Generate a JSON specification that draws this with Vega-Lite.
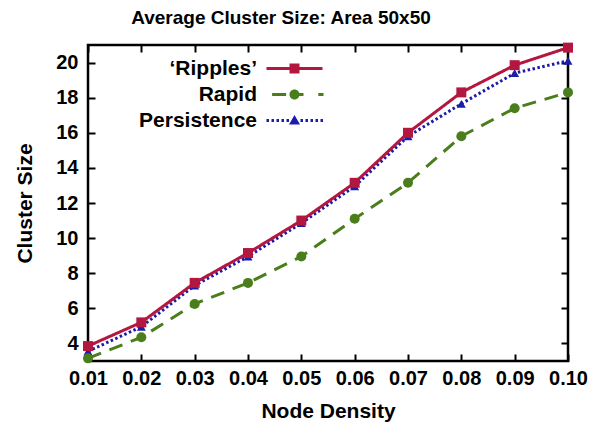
{
  "$schema": "https://vega.github.io/schema/vega-lite/v6.json",
  "width": 480,
  "height": 316,
  "autosize": {"type": "none"},
  "padding": {"left": 88, "top": 45, "right": 26, "bottom": 64},
  "background": "white",
  "config": {
    "font": "Liberation Sans",
    "view": {"stroke": "black", "strokeWidth": 2.5},
    "axis": {
      "grid": false,
      "domain": false,
      "tickColor": "black",
      "tickWidth": 2,
      "tickSize": -7,
      "labelFont": "Liberation Sans",
      "labelFontWeight": "bold",
      "labelFontSize": 20,
      "labelColor": "black",
      "titleFont": "Liberation Sans",
      "titleFontSize": 21,
      "titleFontWeight": "bold",
      "titleColor": "black"
    }
  },
  "title": {
    "text": "Average Cluster Size: Area 50x50",
    "font": "Liberation Sans",
    "fontSize": 19,
    "fontWeight": "bold",
    "color": "black",
    "anchor": "middle",
    "dx": -47,
    "offset": 14
  },
  "data": {
    "values": [
      {"density": 0.01, "size": 3.55, "series": "Persistence"},
      {"density": 0.02, "size": 4.95, "series": "Persistence"},
      {"density": 0.03, "size": 7.3, "series": "Persistence"},
      {"density": 0.04, "size": 8.95, "series": "Persistence"},
      {"density": 0.05, "size": 10.85, "series": "Persistence"},
      {"density": 0.06, "size": 12.95, "series": "Persistence"},
      {"density": 0.07, "size": 15.8, "series": "Persistence"},
      {"density": 0.08, "size": 17.65, "series": "Persistence"},
      {"density": 0.09, "size": 19.4, "series": "Persistence"},
      {"density": 0.10, "size": 20.1, "series": "Persistence"},
      {"density": 0.01, "size": 3.15, "series": "Rapid"},
      {"density": 0.02, "size": 4.35, "series": "Rapid"},
      {"density": 0.03, "size": 6.25, "series": "Rapid"},
      {"density": 0.04, "size": 7.45, "series": "Rapid"},
      {"density": 0.05, "size": 8.95, "series": "Rapid"},
      {"density": 0.06, "size": 11.1, "series": "Rapid"},
      {"density": 0.07, "size": 13.15, "series": "Rapid"},
      {"density": 0.08, "size": 15.8, "series": "Rapid"},
      {"density": 0.09, "size": 17.4, "series": "Rapid"},
      {"density": 0.10, "size": 18.3, "series": "Rapid"},
      {"density": 0.01, "size": 3.85, "series": "‘Ripples’"},
      {"density": 0.02, "size": 5.2, "series": "‘Ripples’"},
      {"density": 0.03, "size": 7.45, "series": "‘Ripples’"},
      {"density": 0.04, "size": 9.15, "series": "‘Ripples’"},
      {"density": 0.05, "size": 11.0, "series": "‘Ripples’"},
      {"density": 0.06, "size": 13.15, "series": "‘Ripples’"},
      {"density": 0.07, "size": 16.0, "series": "‘Ripples’"},
      {"density": 0.08, "size": 18.3, "series": "‘Ripples’"},
      {"density": 0.09, "size": 19.85, "series": "‘Ripples’"},
      {"density": 0.10, "size": 20.85, "series": "‘Ripples’"}
    ]
  },
  "layer": [
    {
      "mark": {"type": "line", "strokeWidth": 3},
      "encoding": {
        "x": {
          "field": "density",
          "type": "quantitative",
          "scale": {"domain": [0.01, 0.1], "nice": false, "zero": false},
          "axis": {
            "title": "Node Density",
            "values": [0.01, 0.02, 0.03, 0.04, 0.05, 0.06, 0.07, 0.08, 0.09, 0.1],
            "format": ".2f",
            "labelPadding": 14,
            "titlePadding": 12,
            "labelFlush": false,
            "labelOverlap": false
          }
        },
        "y": {
          "field": "size",
          "type": "quantitative",
          "scale": {"domain": [3, 21], "nice": false, "zero": false},
          "axis": {
            "title": "Cluster Size",
            "values": [4, 6, 8, 10, 12, 14, 16, 18, 20],
            "labelPadding": 17,
            "titlePadding": 20
          }
        },
        "color": {
          "field": "series",
          "type": "nominal",
          "scale": {"domain": ["‘Ripples’", "Rapid", "Persistence"], "range": ["#b3173f", "#4a7d1c", "#1c1ca8"]},
          "legend": {
            "orient": "none",
            "legendX": 178,
            "legendY": 13,
            "title": null,
            "padding": 0,
            "symbolType": "M-1,-0.05H1V0.05H-1Z",
            "symbolSize": 400,
            "symbolStrokeWidth": 0,
            "symbolOpacity": 1,
            "symbolOffset": 18,
            "labelAlign": "right",
            "labelOffset": -48,
            "rowPadding": 4,
            "labelFont": "Liberation Sans",
            "labelFontSize": 21,
            "labelFontWeight": "bold",
            "labelColor": "black",
            "encode": {
              "symbols": {
                "update": {
                  "shape": {"signal": "datum.value === '‘Ripples’' ? 'M-2.8,-0.15H2.8V0.15H-2.8Z M-0.5,-0.5H0.5V0.5H-0.5Z' : datum.value === 'Rapid' ? 'M-2.24,-0.15H-0.84V0.15H-2.24Z M0.45,-0.15H0.9V0.15H0.45Z M2.38,-0.15H2.9V0.15H2.38Z M0.5,0A0.5,0.5 0 1,1 -0.5,0A0.5,0.5 0 1,1 0.5,0Z' : 'M-2.8,-0.15H-2.55V0.15H-2.8Z M-2.3,-0.15H-2.05V0.15H-2.3Z M-1.8,-0.15H-1.55V0.15H-1.8Z M-1.3,-0.15H-1.05V0.15H-1.3Z M-0.8,-0.15H-0.55V0.15H-0.8Z M0.6,-0.15H0.85V0.15H0.6Z M1.1,-0.15H1.35V0.15H1.1Z M1.6,-0.15H1.85V0.15H1.6Z M2.1,-0.15H2.35V0.15H2.1Z M2.6,-0.15H2.85V0.15H2.6Z M0,-0.55L0.55,0.4H-0.55Z'"},
                  "fill": {"signal": "datum.value === '‘Ripples’' ? '#b3173f' : datum.value === 'Rapid' ? '#4a7d1c' : '#1c1ca8'"},
                  "size": {"value": 400},
                  "stroke": {"value": "transparent"},
                  "strokeWidth": {"value": 0},
                  "strokeDash": {"value": [1, 0]},
                  "opacity": {"value": 1},
                  "fillOpacity": {"value": 1}
                }
              }
            }
          }
        },
        "strokeDash": {
          "field": "series",
          "type": "nominal",
          "scale": {"domain": ["‘Ripples’", "Rapid", "Persistence"], "range": [[1, 0], [14, 9], [2.5, 2.5]]},
          "legend": null
        }
      }
    },
    {
      "transform": [{"filter": "datum.series === 'Persistence'"}],
      "mark": {"type": "point", "filled": true, "opacity": 1, "shape": "triangle-up", "size": 80, "color": "#1c1ca8"},
      "encoding": {
        "x": {"field": "density", "type": "quantitative", "axis": null},
        "y": {"field": "size", "type": "quantitative", "axis": null}
      }
    },
    {
      "transform": [{"filter": "datum.series === 'Rapid'"}],
      "mark": {"type": "point", "filled": true, "opacity": 1, "shape": "circle", "size": 100, "color": "#4a7d1c"},
      "encoding": {
        "x": {"field": "density", "type": "quantitative", "axis": null},
        "y": {"field": "size", "type": "quantitative", "axis": null}
      }
    },
    {
      "transform": [{"filter": "datum.series === '‘Ripples’'"}],
      "mark": {"type": "point", "filled": true, "opacity": 1, "shape": "square", "size": 100, "color": "#b3173f"},
      "encoding": {
        "x": {"field": "density", "type": "quantitative", "axis": null},
        "y": {"field": "size", "type": "quantitative", "axis": null}
      }
    },
    {
      "mark": {"type": "point", "opacity": 0},
      "encoding": {
        "x": {
          "field": "density",
          "type": "quantitative",
          "axis": {"orient": "top", "labels": false, "title": null, "values": [0.01, 0.02, 0.03, 0.04, 0.05, 0.06, 0.07, 0.08, 0.09, 0.1]}
        },
        "y": {
          "field": "size",
          "type": "quantitative",
          "axis": {"orient": "right", "labels": false, "title": null, "values": [4, 6, 8, 10, 12, 14, 16, 18, 20]}
        }
      }
    }
  ],
  "resolve": {"axis": {"x": "independent", "y": "independent"}}
}
